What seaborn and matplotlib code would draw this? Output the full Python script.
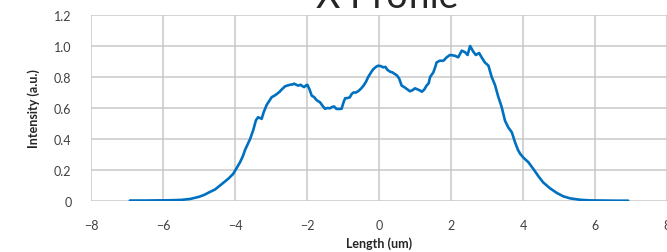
import pandas as pd
import seaborn as sns
import matplotlib.pyplot as plt
from matplotlib.ticker import FixedLocator, FuncFormatter

length_um = [
    -6.92, -6.5, -6.0, -5.75, -5.5, -5.25, -5.0, -4.85, -4.7, -4.55, -4.42, -4.3,
    -4.18, -4.05, -3.95, -3.86, -3.78, -3.72, -3.64, -3.58, -3.49, -3.42, -3.36,
    -3.30, -3.26, -3.20, -3.12, -3.05, -2.98, -2.90, -2.84, -2.76, -2.70, -2.61,
    -2.54, -2.47, -2.40, -2.36, -2.30, -2.24, -2.18, -2.12, -2.08, -2.03, -1.99,
    -1.93, -1.87, -1.80, -1.73, -1.64, -1.57, -1.50, -1.43, -1.36, -1.30, -1.25,
    -1.18, -1.10, -1.04, -0.98, -0.94, -0.88, -0.81, -0.76, -0.71, -0.64, -0.57,
    -0.50, -0.43, -0.36, -0.30, -0.22, -0.16, -0.08, -0.02, 0.05, 0.12, 0.18,
    0.23, 0.31, 0.37, 0.44, 0.50, 0.56, 0.63, 0.70, 0.77, 0.86, 0.93, 1.00, 1.07,
    1.14, 1.19, 1.26, 1.32, 1.38, 1.42, 1.51, 1.57, 1.60, 1.69, 1.79, 1.88, 1.97,
    2.04, 2.11, 2.20, 2.30, 2.39, 2.46, 2.53, 2.58, 2.62, 2.69, 2.78, 2.85, 2.94,
    3.04, 3.13, 3.22, 3.31, 3.41, 3.50, 3.59, 3.69, 3.78, 3.86, 3.92, 4.01, 4.15,
    4.29, 4.43, 4.56, 4.75, 4.94, 5.12, 5.31, 5.58, 5.86, 6.2, 6.6, 6.92,
]
intensity = [
    0.003, 0.003, 0.004, 0.005, 0.007, 0.013, 0.027, 0.040, 0.058, 0.075, 0.099, 0.122,
    0.145, 0.175, 0.215, 0.25, 0.29, 0.33, 0.37, 0.40, 0.46, 0.52, 0.54,
    0.535, 0.53, 0.575, 0.62, 0.645, 0.67, 0.68, 0.69, 0.705, 0.72, 0.74,
    0.745, 0.75, 0.752, 0.757, 0.75, 0.744, 0.75, 0.74, 0.735, 0.745, 0.75,
    0.72, 0.68, 0.67, 0.65, 0.637, 0.615, 0.595, 0.60, 0.598, 0.607, 0.61,
    0.594, 0.594, 0.595, 0.64, 0.663, 0.664, 0.669, 0.69, 0.70, 0.70, 0.71,
    0.725, 0.744, 0.77, 0.80, 0.83, 0.85, 0.866, 0.873, 0.870, 0.862, 0.865,
    0.847, 0.834, 0.83, 0.819, 0.81, 0.79, 0.744, 0.735, 0.723, 0.708, 0.715, 0.727, 0.72,
    0.713, 0.705, 0.72, 0.744, 0.76, 0.80, 0.83, 0.87, 0.894, 0.905, 0.905, 0.927, 0.942,
    0.94, 0.937, 0.927, 0.97, 0.96, 0.942, 1.0, 0.98, 0.963, 0.942, 0.955, 0.927, 0.894,
    0.873, 0.80, 0.75, 0.675, 0.604, 0.518, 0.475, 0.443, 0.378, 0.33, 0.305, 0.28, 0.25,
    0.206, 0.159, 0.12, 0.082, 0.052, 0.030, 0.017, 0.008, 0.004, 0.003, 0.002, 0.002,
]
x_ticks = [-8, -6, -4, -2, 0, 2, 4, 6, 8]
y_ticks = [0, 0.2, 0.4, 0.6, 0.8, 1.0, 1.2]

df = pd.DataFrame({'length': length_um, 'intensity': intensity})

sns.set_style('white')
plt.rcParams['font.family'] = ['Lato', 'DejaVu Sans']

fig = plt.figure(figsize=(6.67, 2.53), dpi=100)
ax = fig.add_axes([91 / 667, 1 - 202 / 253, 1 - 91 / 667, (202 - 16) / 253])
sns.lineplot(x='length', y='intensity', data=df, ax=ax, color='#0070C0', linewidth=1.9)

ax.set_xlim(-8, 8)
ax.set_ylim(0, 1.2)
ax.xaxis.set_major_locator(FixedLocator(x_ticks))
ax.yaxis.set_major_locator(FixedLocator(y_ticks))
ax.yaxis.set_major_formatter(FuncFormatter(lambda v, p: '0' if v == 0 else f'{v:.1f}'))
ax.grid(True, color='#c9c9c9', linewidth=1.1)
for s in ax.spines.values():
    s.set_visible(False)
ax.tick_params(length=0, labelsize=9, labelcolor='#404040')
ax.tick_params(axis='x', pad=13)
ax.tick_params(axis='y', pad=14)

ax.set_xlabel('Length (um)', fontsize=9, fontweight='bold', labelpad=4)
ax.set_ylabel('Intensity (a.u.)', fontsize=9, fontweight='bold', labelpad=10)
fig.text(387 / 667, 1 - 8 / 253, 'X Profile', fontsize=27, ha='center', va='baseline')

fig.savefig('out.png', dpi=100)
